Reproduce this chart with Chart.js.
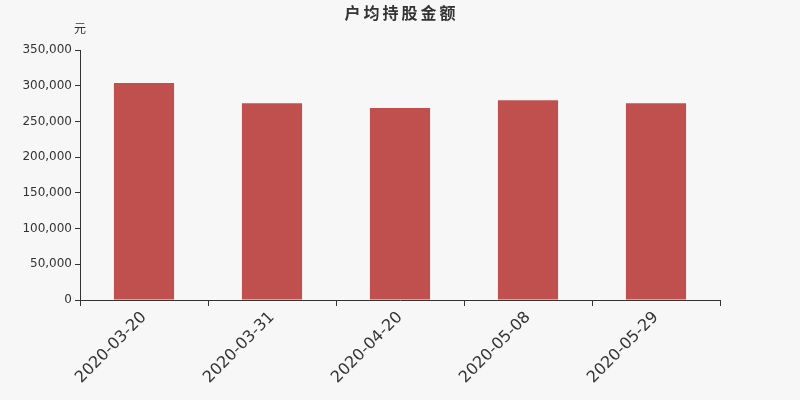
<!DOCTYPE html>
<html>
<head>
<meta charset="utf-8">
<script src="https://cdn.jsdelivr.net/npm/chart.js@4/dist/chart.umd.min.js"></script>
<style>
html,body{margin:0;padding:0;background:#f7f7f7;}
#wrap{width:800px;height:400px;position:relative;}
</style>
</head>
<body>
<div id="wrap"><canvas id="c"></canvas></div>
<script>
const categories = ['2020-03-20','2020-03-31','2020-04-20','2020-05-08','2020-05-29'];
const values = [303800, 275300, 268800, 279500, 275300];
const titleText = '户均持股金额';
const unitText = '元';
const yMax = 350000;
const yStep = 50000;

const overlay = {
  id: 'overlay',
  afterDraw(chart) {
    const ctx = chart.ctx;
    const a = chart.chartArea;
    ctx.save();
    ctx.fillStyle = '#333';
    ctx.font = 'bold 16px "Noto Sans CJK SC", sans-serif';
    ctx.textAlign = 'center';
    ctx.textBaseline = 'middle';
    try { ctx.letterSpacing = '3px'; } catch(e) {}
    ctx.fillText(titleText, 400 + 1.5, 13);
    try { ctx.letterSpacing = '0px'; } catch(e) {}
    ctx.font = '12px "Noto Sans CJK SC", sans-serif';
    ctx.textAlign = 'center';
    ctx.fillText(unitText, a.left, a.top - 22);
    ctx.restore();
  }
};

new Chart(document.getElementById('c'), {
  type: 'bar',
  data: {
    labels: categories,
    datasets: [{
      data: values,
      backgroundColor: '#c0504e',
      borderWidth: 0,
      barPercentage: 0.47,
      categoryPercentage: 1.0
    }]
  },
  options: {
    responsive: true,
    maintainAspectRatio: false,
    animation: false,
    devicePixelRatio: 1,
    layout: { padding: { top: 50, right: 80, left: 0, bottom: 0 } },
    plugins: { legend: { display: false }, title: { display: false }, tooltip: { enabled: false } },
    scales: {
      x: {
        offset: true,
        grid: { display: true, drawOnChartArea: false, drawTicks: true, tickLength: 6, color: '#333', offset: true },
        border: { display: true, color: '#333', width: 1 },
        ticks: { color: '#333', font: { family: 'DejaVu Sans', size: 16 }, minRotation: 45, maxRotation: 45, padding: 2, autoSkip: false },
        afterFit(s) { s.height = 100; }
      },
      y: {
        min: 0,
        max: yMax,
        grid: { display: true, drawOnChartArea: false, drawTicks: true, tickLength: 5, color: '#333' },
        border: { display: true, color: '#333', width: 1 },
        ticks: { stepSize: yStep, color: '#333', font: { family: 'DejaVu Sans', size: 12 }, padding: 3,
          callback: v => v.toLocaleString('en-US') },
        afterFit(s) { s.width = 80; }
      }
    }
  },
  plugins: [overlay]
});
</script>
</body>
</html>
